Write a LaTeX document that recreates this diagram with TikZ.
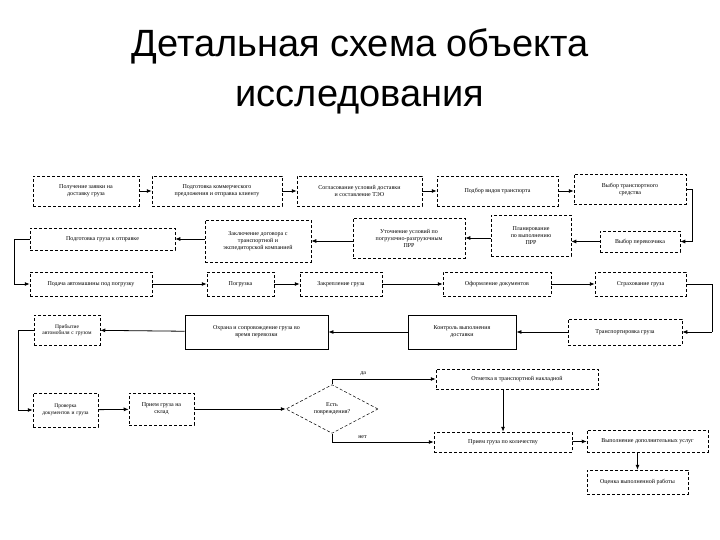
\documentclass[tikz,border=0pt]{standalone}
\usepackage{fontspec}
\setmainfont{Liberation Serif}
\newfontfamily\titlefont{Liberation Sans}
\usetikzlibrary{shapes.geometric,arrows.meta}
\begin{document}
\begin{tikzpicture}[x=1pt,y=-1pt,
 bx/.style={draw,densely dashed,line width=0.5pt,align=center,font=\fontsize{6}{7}\selectfont,inner sep=1pt},
 sb/.style={draw,line width=0.8pt,align=center,font=\fontsize{6}{7}\selectfont,inner sep=1pt},
 ar/.style={-{Latex[length=5pt,width=4pt]},line width=0.8pt},
 lab/.style={font=\fontsize{6}{7}\selectfont}]
\useasboundingbox (0,0) rectangle (720,540);
\node[font=\titlefont\fontsize{38}{50}\selectfont,align=center] (title) at (360,71) {Детальная схема объекта\\исследования};
% row 1
\node[bx,minimum width=106,minimum height=30] (b1) at (86,191) {Получение заявки на\\доставку груза};
\node[bx,minimum width=130,minimum height=30] (b2) at (217,191) {Подготовка коммерческого\\предложения и отправка клиенту};
\node[bx,minimum width=125,minimum height=30] (b3) at (359.5,191) {Согласование условий доставки\\и составление ТЭО};
\node[bx,minimum width=121,minimum height=30] (b4) at (497.5,191) {Подбор видов транспорта};
\node[bx,minimum width=112,minimum height=30] (b5) at (630,189) {Выбор транспортного\\средства};
% row 2
\node[bx,minimum width=145,minimum height=22] (b6) at (102.5,239) {Подготовка груза к отправке};
\node[bx,minimum width=106,minimum height=42] (b7) at (258,241) {Заключение договора с\\транспортной и\\экспедиторской компанией};
\node[bx,minimum width=112,minimum height=40] (b8) at (409,238) {Уточнение условий по\\погрузочно-разгрузочным\\ПРР};
\node[bx,minimum width=80,minimum height=41] (b9) at (531,235.5) {Планирование\\по выполнению\\ПРР};
\node[bx,minimum width=80,minimum height=21] (b10) at (640,241.5) {Выбор перевозчика};
% row 3
\node[bx,minimum width=122,minimum height=24] (b11) at (91,284) {Подача автомашины под погрузку};
\node[bx,minimum width=67,minimum height=24] (b12) at (240.5,284) {Погрузка};
\node[bx,minimum width=82,minimum height=24] (b13) at (341,284) {Закрепление груза};
\node[bx,minimum width=108,minimum height=24] (b14) at (497,284) {Оформление документов};
\node[bx,minimum width=91,minimum height=24] (b15) at (640.5,284) {Страхование груза};
% row 4
\node[bx,minimum width=114,minimum height=26] (b16) at (625,332) {Транспортировка груза};
\node[sb,minimum width=108,minimum height=34] (b17) at (462,332) {Контроль выполнения\\доставки};
\node[sb,minimum width=143,minimum height=34] (b18) at (256.5,332) {Охрана и сопровождение груза во\\время перевозки};
\node[bx,text width=64,minimum height=30,font=\fontsize{5.5}{6.5}\selectfont] (b19) at (67,330) {Прибытие автомобиля с грузом};
% row 5
\node[bx,text width=63,minimum height=34,font=\fontsize{5.5}{6.5}\selectfont] (b20) at (65.5,410) {Проверка документов и груза};
\node[bx,minimum width=65,minimum height=32] (b21) at (161.5,409) {Прием груза на\\склад};
\node[diamond,draw,densely dashed,line width=0.5pt,minimum width=92,minimum height=48,inner sep=0pt,align=center,font=\fontsize{6}{7}\selectfont] (d) at (332,409) {Есть\\повреждения?};
\node[bx,minimum width=162,minimum height=20] (b22) at (517,379) {Отметка в транспортной накладной};
\node[bx,minimum width=138,minimum height=20] (b23) at (503,442) {Прием груза по количеству};
\node[bx,minimum width=121,minimum height=22] (b24) at (647.5,441) {Выполнение дополнительных услуг};
\node[bx,minimum width=101,minimum height=24] (b25) at (637.5,482) {Оценка выполненной работы};
\coordinate (c5) at (692,189);
\coordinate (c5b) at (692,241.5);
\coordinate (c6) at (14,239);
\coordinate (c6b) at (14,284);
\coordinate (c15) at (712,284);
\coordinate (c15b) at (712,332);
\coordinate (c19) at (18,330);
\coordinate (c19b) at (18,410);
% arrows
\draw[ar] (b1) -- (b2);
\draw[ar] (b2) -- (b3);
\draw[ar] (b3) -- (b4);
\draw[ar] (b4) -- (b4-|b5.west);
\draw[ar] (b5.east) -- (c5) -- (c5b) -- (b10.east);
\draw[ar] (b10) -- (b10-|b9.east);
\draw[ar] (b9.west|-b8) -- (b8.east);
\draw[ar] (b8.west|-b7) -- (b7.east);
\draw[ar] (b7.west|-b6) -- (b6.east);
\draw[line width=0.8pt] (b6.west) -- (c6) -- (c6b);
\draw[ar] (c6b) -- (b11.west);
\draw[ar] (b11) -- (b12);
\draw[ar] (b12) -- (b13);
\draw[ar] (b13) -- (b14);
\draw[ar] (b14) -- (b15);
\draw[line width=0.8pt] (b15.east) -- (c15) -- (c15b);
\draw[ar] (c15b) -- (b16.east);
\draw[ar] (b16) -- (b17);
\draw[ar] (b17) -- (b18);
\draw[ar] (b18) -- (b19);
\draw[line width=0.8pt] (b19.west) -- (c19) -- (c19b);
\draw[ar] (c19b) -- (b20.west);
\draw[ar] (b20) -- (b21);
\draw[ar] (b21) -- (d);
\draw[ar] (d.north) -- (d.north|-b22) -- node[lab,above,pos=0.3] {да} (b22.west);
\draw[ar] (d.south) -- (d.south|-b23) -- node[lab,above,pos=0.3] {нет} (b23.west);
\draw[ar] (b22.south-|b23) -- (b23.north);
\draw[ar] (b23) -- (b24);
\draw[ar] (b24.south-|b25) -- (b25.north);
\end{tikzpicture}
\end{document}
